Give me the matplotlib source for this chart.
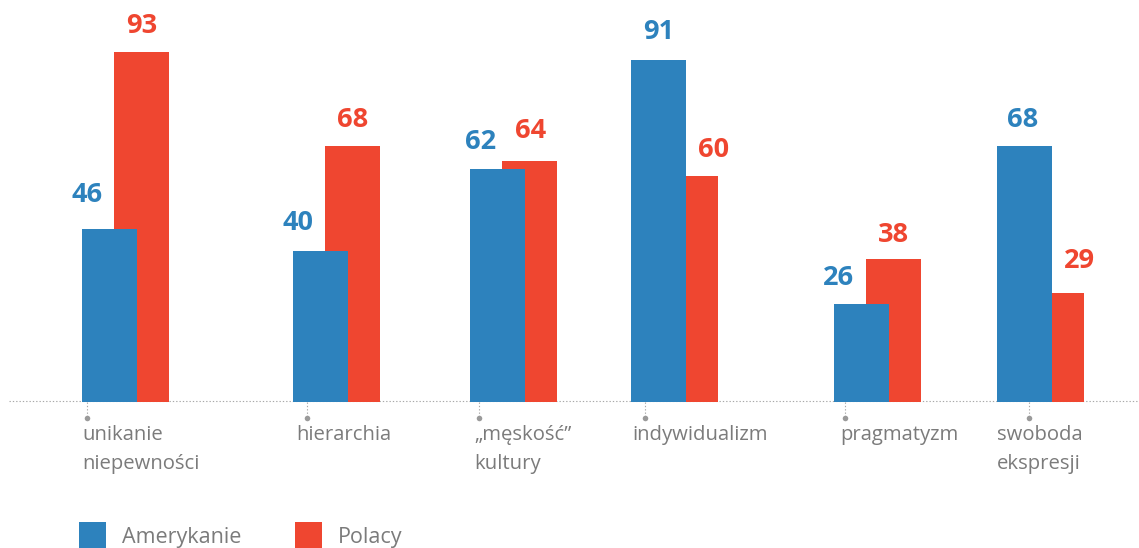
import matplotlib
matplotlib.use("Agg")
import matplotlib.pyplot as plt
from matplotlib.patches import Rectangle

# ---- data ----
categories = ["unikanie\nniepewności", "hierarchia", "\u201em\u0119sko\u015b\u0107\u201d\nkultury",
              "indywidualizm", "pragmatyzm", "swoboda\nekspresji"]
amerykanie = [46, 40, 62, 91, 26, 68]
polacy = [93, 68, 64, 60, 38, 29]
series_names = ["Amerykanie", "Polacy"]

# ---- layout / style ----
W, H = 1139, 548
BASE_PX = 401.7
PX_PER_UNIT = 3.755
blue_c = "#2d82bd"
red_c = "#ef4630"
gray_txt = "#7b7b7b"
gray_line = "#a8a8a8"

group_left = [82, 293, 470, 631, 834, 997]     # px, left edge of blue bar
bar_w = 55
red_shift = 32
tick_off = [5, 14, 9, 14, 11, 32]
label_off = [0, 3, 4, 1, 6, 0]
blue_lab_dx = [-22.5, -22.5, -17, 0, -23, -1.5]
red_lab_dx = [0, 0, 1, 23.5, 0, 22.5]
blue_gap = [27, 21, 20, 21, 19, 19]
red_gap = [19, 19, 23, 19, 17, 25]

plt.rcParams['font.family'] = ['Open Sans', 'DejaVu Sans']

fig = plt.figure(figsize=(W / 100, H / 100), dpi=100)
ax = fig.add_axes([0, 0, 1, 1])
ax.set_xlim(0, W)
ax.set_ylim((BASE_PX - H) / PX_PER_UNIT, BASE_PX / PX_PER_UNIT)
ax.axis("off")


def py(p):
    return (BASE_PX - p) / PX_PER_UNIT


# baseline dotted
ax.plot([9, W], [py(400.6), py(400.6)], color=gray_line, lw=0.8,
        linestyle=(0, (1.2, 1.8)), zorder=1)

red_x = [g + red_shift for g in group_left]
ax.bar(red_x, polacy, width=bar_w, align="edge", color=red_c, zorder=2)
ax.bar(group_left, amerykanie, width=bar_w, align="edge", color=blue_c, zorder=3)

for i, cat in enumerate(categories):
    bx = group_left[i]
    # value labels
    ax.text(bx + bar_w / 2 + blue_lab_dx[i], amerykanie[i] + blue_gap[i] / PX_PER_UNIT,
            str(amerykanie[i]), color=blue_c, fontsize=19.5, fontweight="bold",
            ha="center", va="baseline", zorder=4)
    rx = red_x[i]
    ax.text(rx + bar_w / 2 + red_lab_dx[i], polacy[i] + red_gap[i] / PX_PER_UNIT,
            str(polacy[i]), color=red_c, fontsize=19.5, fontweight="bold",
            ha="center", va="baseline", zorder=4)
    # tick marker
    tx = bx + tick_off[i]
    ax.plot([tx, tx], [py(402), py(417)], color=gray_line, lw=0.8,
            linestyle=(0, (1.2, 1.8)), zorder=1)
    ax.plot([tx], [py(418.3)], marker="o", markersize=4, color="#9a9a9a",
            markeredgewidth=0, zorder=1)
    # category label
    for j, line in enumerate(cat.split("\n")):
        ax.text(bx + label_off[i], py(440 + j * 29.3), line, color=gray_txt,
                fontsize=14.6, ha="left", va="baseline")

# legend
leg_sq_x = [79, 295]
leg_txt_x = [122, 338]
for name, c, sx, tx in zip(series_names, [blue_c, red_c], leg_sq_x, leg_txt_x):
    ax.add_patch(Rectangle((sx, py(549)), 27, 27 / PX_PER_UNIT, color=c, lw=0,
                           clip_on=False))
    ax.text(tx, py(542.5), name, color=gray_txt, fontsize=15.5, ha="left", va="baseline")

fig.savefig("out.png", dpi=100)
